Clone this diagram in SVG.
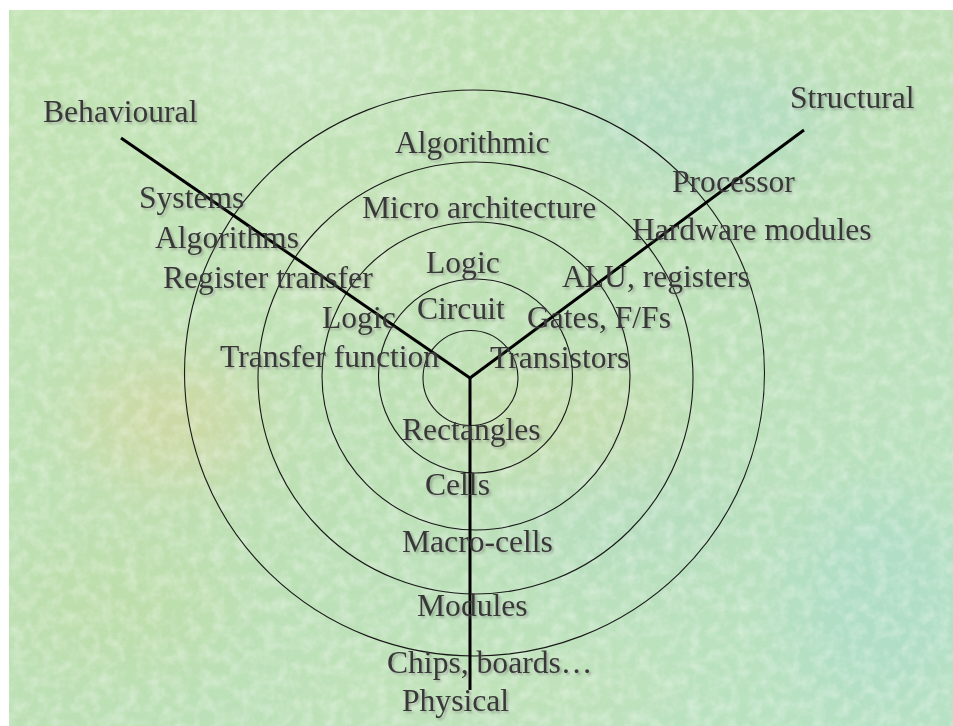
<svg xmlns="http://www.w3.org/2000/svg" width="953" height="726" viewBox="0 0 953 726">
  <defs>
    <style>
      .lbl { font-family: "Liberation Serif", "Times New Roman", serif; font-size: 31.6px; fill: #383838; filter: url(#shadow); }
      .ring { fill: none; stroke: #1a1a1a; stroke-width: 1.1; }
      .axis { stroke: #000; stroke-width: 3; stroke-linecap: butt; fill: none; }
    </style>
    <clipPath id="area"><rect x="9" y="10" width="944" height="716"/></clipPath>
    <filter id="shadow" x="-10%" y="-30%" width="120%" height="160%">
      <feDropShadow dx="2" dy="2" stdDeviation="1" flood-color="#707070" flood-opacity="0.45"/>
    </filter>
    <filter id="tex" x="0" y="0" width="100%" height="100%">
      <feTurbulence type="fractalNoise" baseFrequency="0.08" numOctaves="3" seed="7" result="n"/>
      <feColorMatrix in="n" type="matrix" values="0 0 0 0 1  0 0 0 0 1  0 0 0 0 1  0 0 0 1.6 -0.6" result="w"/>
      <feComposite in="w" in2="SourceGraphic" operator="in"/>
    </filter>
    <filter id="blur" x="-50%" y="-50%" width="200%" height="200%">
      <feGaussianBlur stdDeviation="35"/>
    </filter>
    <linearGradient id="bg" x1="0" y1="0" x2="1" y2="1">
      <stop offset="0" stop-color="#c2e3b3"/>
      <stop offset="0.5" stop-color="#bde0b6"/>
      <stop offset="1" stop-color="#b9e2c4"/>
    </linearGradient>
  </defs>

  <g id="background">
    <rect x="0" y="0" width="953" height="726" fill="#ffffff"/>
    <g clip-path="url(#area)">
      <rect x="9" y="10" width="944" height="716" fill="url(#bg)"/>
      <g filter="url(#blur)" opacity="0.7">
        <ellipse cx="170" cy="420" rx="90" ry="60" fill="#d6d69e"/>
        <ellipse cx="560" cy="420" rx="120" ry="50" fill="#c9dca8"/>
        <ellipse cx="700" cy="120" rx="140" ry="60" fill="#b0dcc8"/>
        <ellipse cx="300" cy="60" rx="120" ry="40" fill="#d2ead0"/>
        <ellipse cx="880" cy="600" rx="90" ry="110" fill="#acdcc8"/>
        <ellipse cx="120" cy="600" rx="110" ry="70" fill="#bedda8"/>
        <ellipse cx="640" cy="520" rx="120" ry="60" fill="#b4dcc0"/>
        <ellipse cx="350" cy="250" rx="100" ry="60" fill="#cfe5bd"/>
        <ellipse cx="480" cy="690" rx="200" ry="30" fill="#c6e3b6"/>
      </g>
      <rect x="9" y="10" width="944" height="716" fill="#ffffff" filter="url(#tex)" opacity="0.4"/>
    </g>
  </g>

  <g id="rings">
    <ellipse class="ring" cx="474.5" cy="373" rx="290" ry="283"/>
    <ellipse class="ring" cx="475.5" cy="378" rx="217.5" ry="216"/>
    <circle class="ring" cx="476" cy="376" r="154"/>
    <circle class="ring" cx="475.5" cy="376" r="97"/>
    <circle class="ring" cx="470.5" cy="378" r="47.5"/>
  </g>

  <g id="connectors">
    <line class="axis" x1="121" y1="138" x2="470" y2="378"/>
    <line class="axis" x1="804" y1="130" x2="470" y2="378"/>
    <line class="axis" x1="470" y1="378" x2="470" y2="690"/>
  </g>

  <g id="axis-labels">
    <text class="lbl" x="43" y="122">Behavioural</text>
    <text class="lbl" x="790" y="108">Structural</text>
    <text class="lbl" x="402" y="711">Physical</text>
  </g>

  <g id="behavioural-levels">
    <text class="lbl" x="139" y="208">Systems</text>
    <text class="lbl" x="155" y="248">Algorithms</text>
    <text class="lbl" x="163" y="288">Register transfer</text>
    <text class="lbl" x="322" y="328">Logic</text>
    <text class="lbl" x="220" y="367">Transfer function</text>
  </g>

  <g id="ring-labels">
    <text class="lbl" x="395" y="153">Algorithmic</text>
    <text class="lbl" x="362" y="218">Micro architecture</text>
    <text class="lbl" x="426" y="273">Logic</text>
    <text class="lbl" x="417" y="319">Circuit</text>
  </g>

  <g id="structural-levels">
    <text class="lbl" x="672" y="192">Processor</text>
    <text class="lbl" x="632" y="240">Hardware modules</text>
    <text class="lbl" x="562" y="287">ALU, registers</text>
    <text class="lbl" x="527" y="328">Gates, F/Fs</text>
    <text class="lbl" x="490" y="368">Transistors</text>
  </g>

  <g id="physical-levels">
    <text class="lbl" x="402" y="440">Rectangles</text>
    <text class="lbl" x="425" y="495">Cells</text>
    <text class="lbl" x="402" y="552">Macro-cells</text>
    <text class="lbl" x="417" y="616">Modules</text>
    <text class="lbl" x="387" y="673">Chips, boards…</text>
  </g>
</svg>
